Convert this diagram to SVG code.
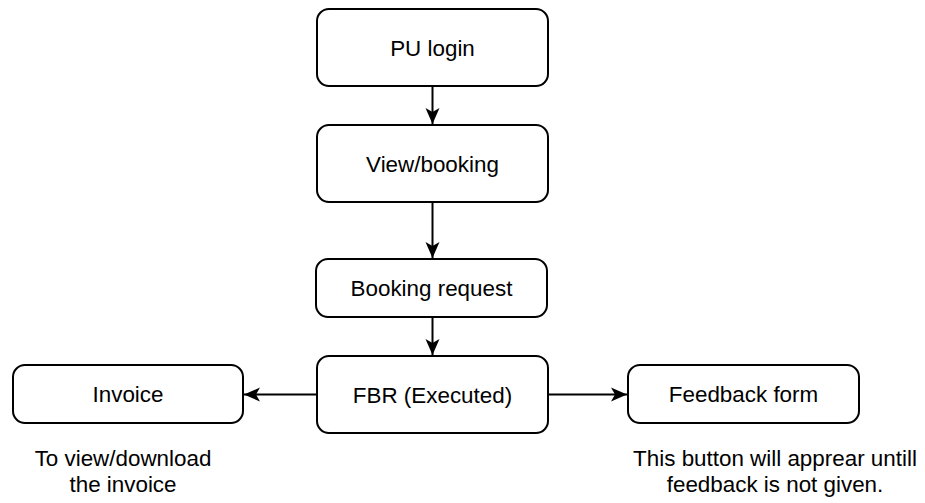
<svg xmlns="http://www.w3.org/2000/svg" width="925" height="503" viewBox="0 0 925 503">
<style>
.box{fill:#fff;stroke:#000;stroke-width:2}
.t{font-family:"Liberation Sans",Arial,sans-serif;font-size:22.4px;fill:#000;text-anchor:middle}
.edge{stroke:#000;stroke-width:2;fill:none}
</style>
<defs>
<marker id="arr" markerUnits="userSpaceOnUse" markerWidth="18" markerHeight="16" viewBox="0 0 18 16" refX="16" refY="8" orient="auto">
<path d="M0,1 L16,8 L0,15 L4,8 Z" fill="#000"/>
</marker>
</defs>
<rect width="925" height="503" fill="#fff"/>
<g id="connectors">
<line class="edge" x1="432.5" y1="86" x2="432.5" y2="124" marker-end="url(#arr)"/>
<line class="edge" x1="432.5" y1="202" x2="432.5" y2="258" marker-end="url(#arr)"/>
<line class="edge" x1="432.5" y1="317" x2="432.5" y2="355" marker-end="url(#arr)"/>
<line class="edge" x1="317" y1="394.5" x2="244" y2="394.5" marker-end="url(#arr)"/>
<line class="edge" x1="548" y1="394.5" x2="627" y2="394.5" marker-end="url(#arr)"/>
</g>
<g id="pu-login">
<rect class="box" x="317" y="9" width="231" height="77" rx="12"/>
<text class="t" x="432.5" y="55.5">PU login</text>
</g>
<g id="view-booking">
<rect class="box" x="317" y="125" width="231" height="77" rx="12"/>
<text class="t" x="432.5" y="171.5">View/booking</text>
</g>
<g id="booking-request">
<rect class="box" x="316" y="259" width="231" height="58" rx="12"/>
<text class="t" x="431.5" y="296">Booking request</text>
</g>
<g id="fbr">
<rect class="box" x="317" y="356" width="231" height="77" rx="12"/>
<text class="t" x="432.5" y="402.5">FBR (Executed)</text>
</g>
<g id="invoice">
<rect class="box" x="13" y="365" width="230" height="58" rx="12"/>
<text class="t" x="128" y="402">Invoice</text>
</g>
<g id="feedback-form">
<rect class="box" x="628" y="365" width="231" height="58" rx="12"/>
<text class="t" x="743.5" y="402">Feedback form</text>
</g>
<g id="invoice-note">
<text class="t" x="123" y="466">To view/download</text>
<text class="t" x="123" y="492">the invoice</text>
</g>
<g id="feedback-note">
<text class="t" x="775" y="466">This button will apprear untill</text>
<text class="t" x="775" y="492">feedback is not given.</text>
</g>
</svg>
